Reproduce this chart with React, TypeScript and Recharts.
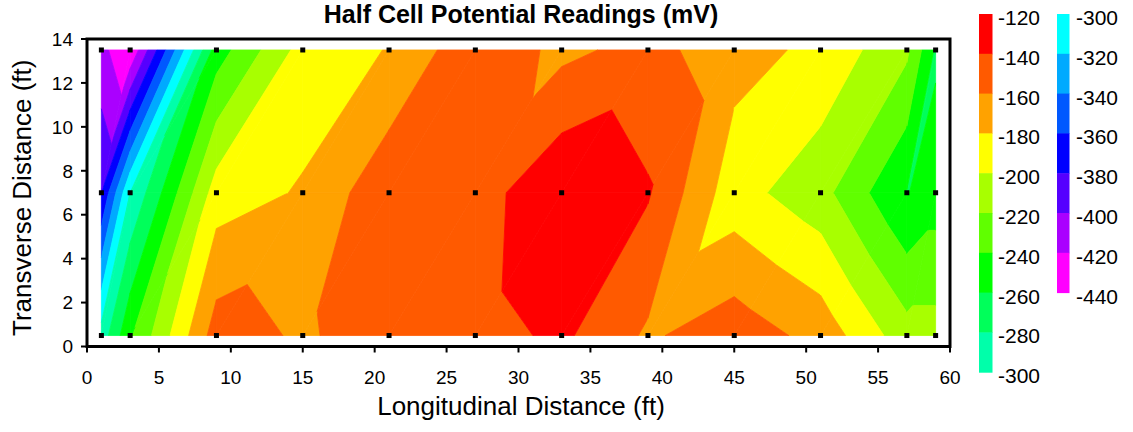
import React from 'react';
import { ScatterChart, Scatter, XAxis, YAxis, ReferenceArea, Label } from 'recharts';

// Survey grid (ft)
const xPositions = [1, 3, 9, 15, 21, 27, 33, 39, 45, 51, 57, 59];
const yPositions = [0.5, 7, 13.5];

// Half cell potential readings (mV) along each transverse line
const readingsBottom = [-292, -243, -150, -163, -148, -148, -136, -163, -148, -167, -212, -212];
const readingsMiddle = [-380, -300, -190, -178, -145, -150, -122, -138, -192, -213, -261, -250];
const readingsTop = [-414, -438, -250, -192, -179, -145, -165, -153, -172, -185, -216, -263];

// Contour levels and fill colours (lowest band first)
const contourLevels = [-440, -420, -400, -380, -360, -340, -320, -300, -280, -260, -240, -220, -200, -180, -160, -140, -120];
const bandColors = [
  '#ff00ff', '#aa00ff', '#5500ff', '#0000ff', '#0058ff', '#00aaff', '#00ffff', '#00ffaa',
  '#00ff5a', '#00ff00', '#60ff00', '#a8ff00', '#ffff00', '#ffa200', '#ff5a00', '#ff0000',
];

const xTicks = [0, 5, 10, 15, 20, 25, 30, 35, 40, 45, 50, 55, 60];
const yTicks = [0, 2, 4, 6, 8, 10, 12, 14];

const legendLabelsA = [-120, -140, -160, -180, -200, -220, -240, -260, -280, -300];
const legendColorsA = ['#ff0000', '#ff5a00', '#ffa200', '#ffff00', '#a8ff00', '#60ff00', '#00ff00', '#00ff5a', '#00ffaa'];
const legendLabelsB = [-300, -320, -340, -360, -380, -400, -420, -440];
const legendColorsB = ['#00ffff', '#00aaff', '#0058ff', '#0000ff', '#5500ff', '#aa00ff', '#ff00ff'];

const titleText = 'Half Cell Potential Readings (mV)';
const xTitle = 'Longitudinal Distance (ft)';
const yTitle = 'Transverse Distance (ft)';

const FONT = '"Liberation Sans", Arial, Helvetica, sans-serif';

type V = { x: number; y: number; v: number };

function clipByLevel(poly: V[], level: number, keepAbove: boolean): V[] {
  const out: V[] = [];
  for (let i = 0; i < poly.length; i++) {
    const a = poly[i];
    const b = poly[(i + 1) % poly.length];
    const ina = keepAbove ? a.v >= level : a.v <= level;
    const inb = keepAbove ? b.v >= level : b.v <= level;
    if (ina) out.push(a);
    if (ina !== inb) {
      const t = (level - a.v) / (b.v - a.v);
      out.push({ x: a.x + t * (b.x - a.x), y: a.y + t * (b.y - a.y), v: level });
    }
  }
  return out;
}

function polyArea(p: V[]) {
  let s = 0;
  for (let i = 0; i < p.length; i++) {
    const a = p[i];
    const b = p[(i + 1) % p.length];
    s += a.x * b.y - b.x * a.y;
  }
  return Math.abs(s) / 2;
}

function buildBands() {
  const rows = [readingsBottom, readingsMiddle, readingsTop];
  const pieces: { color: string; points: { x: number; y: number }[] }[] = [];
  for (let j = 0; j < yPositions.length - 1; j++) {
    for (let i = 0; i < xPositions.length - 1; i++) {
      const bl = { x: xPositions[i], y: yPositions[j], v: rows[j][i] };
      const br = { x: xPositions[i + 1], y: yPositions[j], v: rows[j][i + 1] };
      const tl = { x: xPositions[i], y: yPositions[j + 1], v: rows[j + 1][i] };
      const tr = { x: xPositions[i + 1], y: yPositions[j + 1], v: rows[j + 1][i + 1] };
      const tris = [[bl, br, tr], [bl, tr, tl]];
      for (const tri of tris) {
        for (let k = 0; k < bandColors.length; k++) {
          let poly = clipByLevel(tri, contourLevels[k], true);
          if (poly.length < 3) continue;
          poly = clipByLevel(poly, contourLevels[k + 1], false);
          if (poly.length < 3 || polyArea(poly) < 1e-7) continue;
          pieces.push({ color: bandColors[k], points: poly.map((p) => ({ x: p.x, y: p.y })) });
        }
      }
    }
  }
  return pieces;
}

const bandPieces = buildBands();

const gridPoints = (() => {
  const pts: { x: number; y: number }[] = [];
  yPositions.forEach((y) => xPositions.forEach((x) => pts.push({ x, y })));
  return pts;
})();

function BandFill(props: any) {
  const pts: { x: number; y: number }[] = props.points || [];
  if (pts.length < 3) return <g />;
  return (
    <polygon
      points={pts.map((p) => `${p.x},${p.y}`).join(' ')}
      fill={props.fillColor}
      stroke={props.fillColor}
      strokeWidth={0.8}
      strokeLinejoin="round"
    />
  );
}

const noShape = () => <g />;

const dotShape = (p: any) => <rect x={p.cx - 2.5} y={p.cy - 2.5} width={5} height={5} fill="#000" />;

const renderXTitle = (props: any) => {
  const vb = props.viewBox || { x: 0, y: 0, width: 0, height: 0 };
  return (
    <text x={vb.x + vb.width / 2 + 2.5} y={vb.y + 68} textAnchor="middle" fontSize={26} fontFamily={FONT} fill="#000">
      {xTitle}
    </text>
  );
};

const renderYTitle = (props: any) => {
  const vb = props.viewBox || { x: 0, y: 0, width: 0, height: 0 };
  const cx = vb.x + 4;
  const cy = vb.y + vb.height / 2 + 5;
  return (
    <text x={cx} y={cy} transform={`rotate(-90, ${cx}, ${cy})`} textAnchor="middle" fontSize={26} fontFamily={FONT} fill="#000">
      {yTitle}
    </text>
  );
};

function LegendOverlay() {
  const top = 14;
  const bandH = 39.8;
  return (
    <svg width={1133} height={432} style={{ position: 'absolute', left: 0, top: 0, pointerEvents: 'none' }}>
      <text x={521} y={23} textAnchor="middle" fontSize={25} fontWeight="bold" fontFamily={FONT} fill="#000">
        {titleText}
      </text>
      {legendColorsA.map((c, i) => (
        <rect key={'a' + i} x={979} y={top + i * bandH} width={13.5} height={bandH + 0.5} fill={c} />
      ))}
      {legendLabelsA.map((l, i) => (
        <text key={'al' + i} x={998} y={top + i * bandH + 11} fontSize={21} fontFamily={FONT} fill="#000">
          {l}
        </text>
      ))}
      {legendColorsB.map((c, i) => (
        <rect key={'b' + i} x={1057} y={top + i * bandH} width={12.5} height={bandH + 0.5} fill={c} />
      ))}
      {legendLabelsB.map((l, i) => (
        <text key={'bl' + i} x={1076} y={top + i * bandH + 11} fontSize={21} fontFamily={FONT} fill="#000">
          {l}
        </text>
      ))}
    </svg>
  );
}

export default function App() {
  return (
    <div style={{ position: 'absolute', left: 0, top: 0, width: 1133, height: 432, overflow: 'hidden', background: '#fff', fontFamily: FONT }}>
      <ScatterChart width={1133} height={432} margin={{ top: 39, right: 183, bottom: 25.5, left: 27 }}>
        <XAxis
          type="number"
          dataKey="x"
          domain={[0, 60]}
          ticks={xTicks}
          allowDataOverflow
          height={60}
          axisLine={false}
          tickLine={{ stroke: '#000', strokeWidth: 2 }}
          tickSize={6}
          tickMargin={18}
          tick={{ fill: '#000', fontSize: 19, fontFamily: FONT }}
          interval={0}
        >
          <Label content={renderXTitle} />
        </XAxis>
        <YAxis
          type="number"
          dataKey="y"
          domain={[0, 14]}
          ticks={yTicks}
          allowDataOverflow
          width={60}
          axisLine={false}
          tickLine={{ stroke: '#000', strokeWidth: 2 }}
          tickSize={6}
          tickMargin={8}
          tick={{ fill: '#000', fontSize: 19, fontFamily: FONT }}
          interval={0}
        >
          <Label content={renderYTitle} />
        </YAxis>
        {bandPieces.map((p, idx) => (
          <Scatter
            key={'band' + idx}
            data={p.points}
            line={<BandFill fillColor={p.color} />}
            lineType="joint"
            shape={noShape}
            isAnimationActive={false}
            legendType="none"
          />
        ))}
        <Scatter data={gridPoints} shape={dotShape} isAnimationActive={false} legendType="none" />
        <ReferenceArea x1={0} x2={60} y1={0} y2={14} fill="none" stroke="#000" strokeWidth={3} ifOverflow="visible" />
      </ScatterChart>
      <LegendOverlay />
    </div>
  );
}
